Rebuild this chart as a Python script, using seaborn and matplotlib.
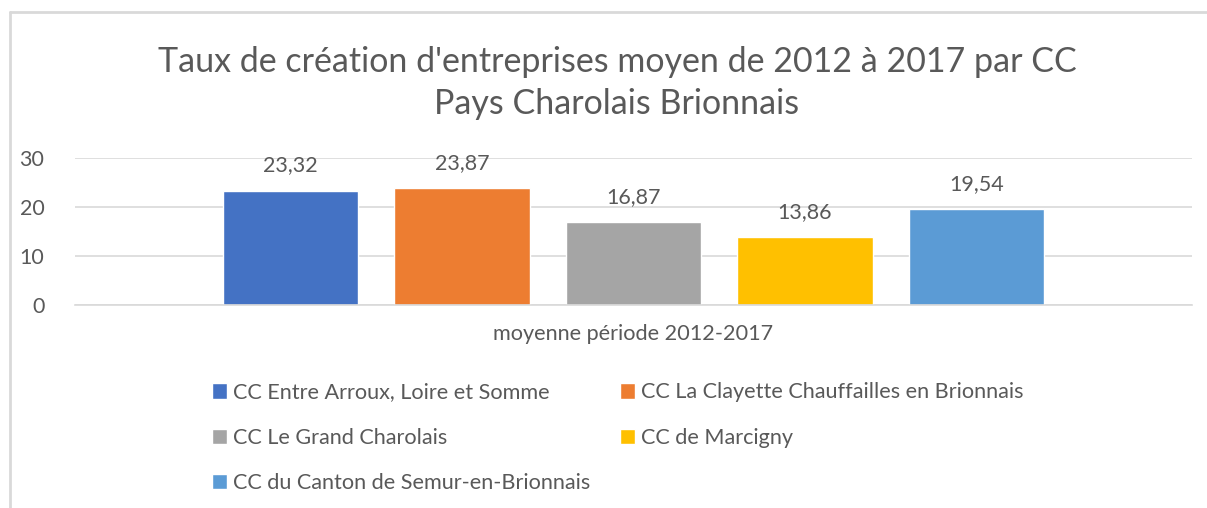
import matplotlib
matplotlib.use("Agg")
from matplotlib import pyplot as plt
from matplotlib.lines import Line2D
import seaborn as sns
import pandas as pd

periode = "moyenne période 2012-2017"
cc_names = [
    "CC Entre Arroux, Loire et Somme",
    "CC La Clayette Chauffailles en Brionnais",
    "CC Le Grand Charolais",
    "CC de Marcigny",
    "CC du Canton de Semur-en-Brionnais",
]
taux = [23.32, 23.87, 16.87, 13.86, 19.54]
colors = ["#4472C4", "#ED7D31", "#A5A5A5", "#FFC000", "#5B9BD5"]

df = pd.DataFrame({"periode": [periode] * len(cc_names), "CC": cc_names, "taux": taux})

sns.set_style("white")
plt.rcParams["font.family"] = ["Lato", "DejaVu Sans"]
txt = "#595959"
grid = "#D9D9D9"

fig = plt.figure(figsize=(12.07, 5.08), dpi=100)
ax = fig.add_axes([75 / 1207, 1 - 305 / 508, (1192 - 75) / 1207, (305 - 158) / 508])

sns.barplot(data=df, x="periode", y="taux", hue="CC", palette=colors,
            width=0.767, gap=0.21, ax=ax, saturation=1)

ax.set_ylim(0, 30)
ax.set_yticks([0, 10, 20, 30])
ax.yaxis.grid(True, color=grid, lw=1.2)
ax.set_axisbelow(True)
for s in ["top", "right", "left"]:
    ax.spines[s].set_visible(False)
ax.spines["bottom"].set_color(grid)
ax.spines["bottom"].set_linewidth(1.2)
ax.tick_params(axis="y", length=0, pad=22, labelsize=15.5, labelcolor=txt)
ax.tick_params(axis="x", length=0, pad=14, labelsize=15.6, labelcolor=txt)
ax.set_xlabel("")
ax.set_ylabel("")

for cont in ax.containers:
    vals = [b.get_height() for b in cont]
    ax.bar_label(cont, labels=[f"{v:.2f}".replace(".", ",") for v in vals],
                 padding=11, fontsize=15.5, color=txt)

handles, labels = ax.get_legend_handles_labels()
ax.get_legend().remove()
order = [0, 2, 4, 1, 3]
fig.legend([handles[i] for i in order], [labels[i] for i in order],
           ncol=2, loc="upper left", bbox_to_anchor=(192 / 1207, 1 - 363 / 508),
           frameon=False, fontsize=15.6, labelcolor=txt,
           handlelength=0.7, handleheight=0.7, handletextpad=0.3,
           labelspacing=1.17, columnspacing=1.35)

fig.text(617 / 1207, 1 - 83 / 508,
         "Taux de création d'entreprises moyen de 2012 à 2017 par CC\nPays Charolais Brionnais",
         ha="center", va="center", fontsize=24.5, color=txt, linespacing=1.35)

fig.add_artist(Line2D([10 / 1207, 10 / 1207], [0, 1 - 12 / 508], transform=fig.transFigure,
                      color=grid, lw=2))
fig.add_artist(Line2D([10 / 1207, 1], [1 - 12 / 508, 1 - 12 / 508], transform=fig.transFigure,
                      color=grid, lw=2))

plt.savefig("out.png", dpi=100)
